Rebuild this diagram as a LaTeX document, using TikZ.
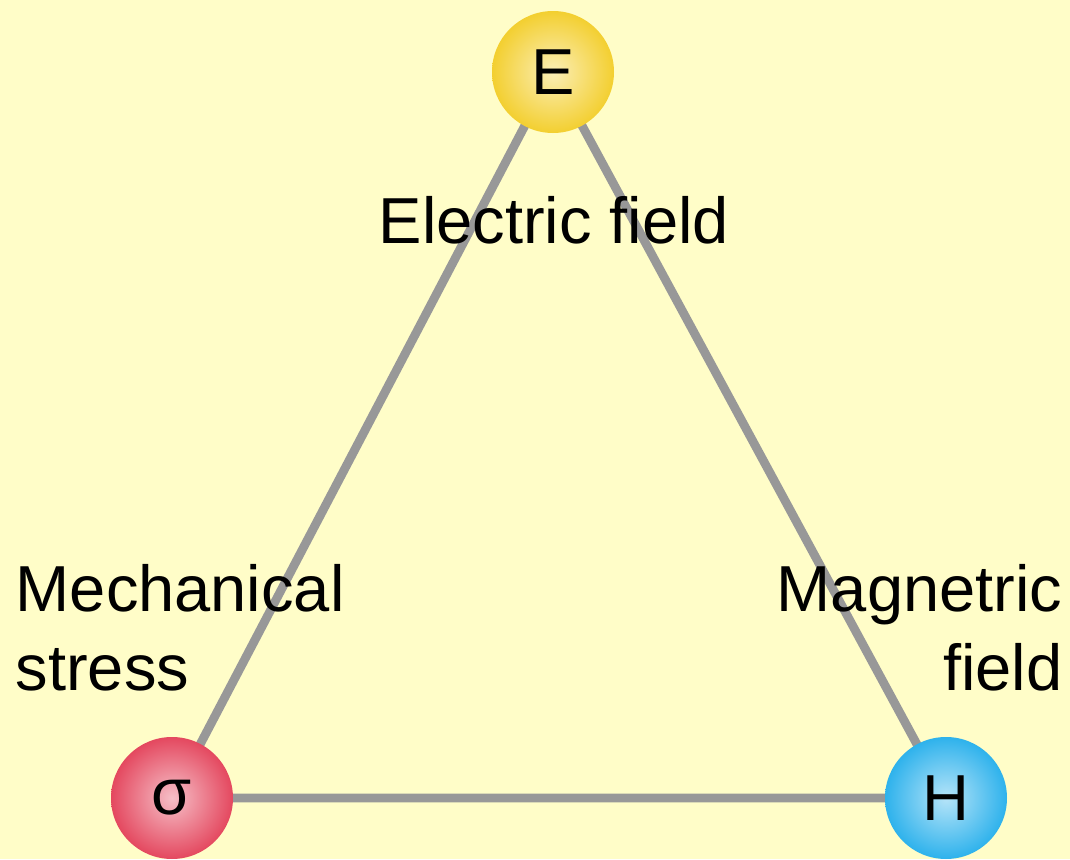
\documentclass[tikz,border=0pt]{standalone}
\usepackage{fontspec}
\setmainfont{Liberation Sans}
\definecolor{bgyellow}{HTML}{FFFDC8}
\definecolor{linkgray}{HTML}{989898}
\definecolor{eyellow}{HTML}{F3CF30}
\definecolor{sred}{HTML}{E4485F}
\definecolor{hblue}{HTML}{2EB2EC}
\pgfdeclarelayer{paper}
\pgfdeclarelayer{links}
\pgfsetlayers{paper,links,main}

\begin{document}
\begin{tikzpicture}[
        ball/.style={circle, minimum size=1.22cm, inner sep=0pt, shading=radial,
            font=\fontsize{18.5}{22}\selectfont},
        link/.style={draw=linkgray, line width=2.5pt},
        lbl/.style={inner sep=0pt, font=\fontsize{18.5}{22.3}\selectfont}
    ]
            \begin{pgfonlayer}{paper}
                \fill[bgyellow] (0,0) rectangle (10.7,8.59);
            \end{pgfonlayer}
            \useasboundingbox (0,0) rectangle (10.7,8.59);
            \node[ball, inner color=eyellow!35!white, outer color=eyellow] (E) at (5.53,7.87) {E};
            \node[ball, inner color=sred!35!white, outer color=sred] (S) at (1.72,0.61) {σ};
            \node[ball, inner color=hblue!35!white, outer color=hblue] (H) at (9.46,0.61) {H};
            \begin{pgfonlayer}{links}
                \draw[link] (E.center) -- (S.center) -- (H.center) -- cycle;
            \end{pgfonlayer}
            \node[lbl, anchor=base] (efield) at (5.54,6.16) {Electric field};
            \node[lbl, anchor=base west, align=left] (stress) at (0.15,1.69)
                {Mechanical\\stress};
            \node[lbl, anchor=base east, align=right] (hfield) at (10.63,1.69)
                {Magnetric\\field};
        \end{tikzpicture}
\end{document}
